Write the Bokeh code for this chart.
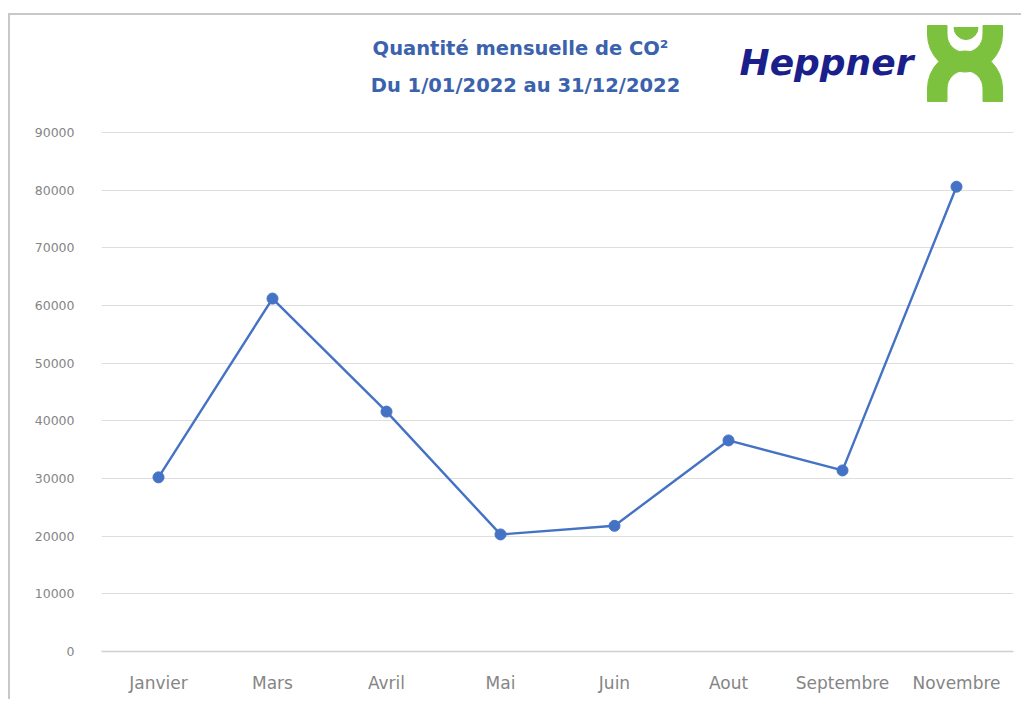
from bokeh.plotting import figure
from bokeh.models import FactorRange, Range1d, FixedTicker
from bokeh.core.properties import value
from bokeh.embed import file_html
from bokeh.resources import INLINE

# ---- data ----
months = ["Janvier", "Mars", "Avril", "Mai", "Juin", "Aout", "Septembre", "Novembre"]
co2 = [30200, 61200, 41600, 20300, 21800, 36600, 31400, 80600]
y_ticks = [0, 10000, 20000, 30000, 40000, 50000, 60000, 70000, 80000, 90000]
title_lines = ["Quantité mensuelle de CO²", "Du 1/01/2022 au 31/12/2022"]
brand = "Heppner"

# ---- layout constants (canvas pixels) ----
W, H = 1013, 686
FL, FR, FB = 91, 1003, 636   # frame left/right/bottom in canvas px
FT = 0                       # frame top
Y_MAX_TICK = 90000
PX_90K = 519                 # px between 0 and 90000 gridlines
y_end = Y_MAX_TICK * (FB - FT) / PX_90K

p = figure(width=W, height=H, x_range=FactorRange(*months, range_padding=0),
           y_range=Range1d(0, y_end), output_backend="svg", toolbar_location=None,
           min_border_left=FL, min_border_right=W - FR, min_border_top=FT,
           min_border_bottom=H - FB)
p.styles = {"border-left": "2px solid #c8c8c8", "border-top": "2px solid #c8c8c8",
            "margin-top": "13px", "margin-left": "8px"}
p.outline_line_color = None
p.background_fill_color = "white"
p.border_fill_color = "white"

# page px -> data coords (canvas at page (10, 15))
def dx(px):
    return (px - 101) / 114.0

def dy(py):
    return (651 - py) * Y_MAX_TICK / PX_90K

# axes
p.xgrid.grid_line_color = None
p.ygrid.grid_line_color = "#dedede"
p.ygrid.grid_line_width = 1
p.yaxis.ticker = FixedTicker(ticks=y_ticks)
p.yaxis.axis_line_color = None
p.yaxis.major_tick_line_color = None
p.yaxis.minor_tick_line_color = None
p.yaxis.major_label_standoff = 21
p.yaxis.major_label_text_color = "#858585"
p.yaxis.major_label_text_font = "DejaVu Sans"
p.yaxis.major_label_text_font_size = "12.5px"

p.xaxis.axis_line_color = "#d0d0d0"
p.xaxis.axis_line_width = 1.5
p.xaxis.major_tick_line_color = None
p.xaxis.minor_tick_line_color = None
p.xaxis.major_label_standoff = 15
p.xaxis.major_label_text_color = "#858585"
p.xaxis.major_label_text_font = "DejaVu Sans"
p.xaxis.major_label_text_font_size = "17px"

# series
p.line(months, co2, line_color="#4472C4", line_width=2.4)
p.scatter(months, co2, size=11, fill_color="#4472C4", line_color="#4472C4")

# title
p.text(x=[dx(520)], y=[dy(48)], text=[title_lines[0]], text_align="center",
       text_baseline="middle", text_font=value("DejaVu Sans"), text_font_style="bold",
       text_font_size="19.5px", text_color="#3B62AC")
p.text(x=[dx(525)], y=[dy(85)], text=[title_lines[1]], text_align="center",
       text_baseline="middle", text_font=value("DejaVu Sans"), text_font_style="bold",
       text_font_size="19.5px", text_color="#3B62AC")

# logo
p.text(x=[dx(739)], y=[dy(62)], text=[brand], text_align="left",
       text_baseline="middle", text_font=value("DejaVu Sans"), text_font_style="bold italic",
       text_font_size="36px", text_color="#1B1F8C")
green = "#7DC23E"
CX = 964.5
p.annular_wedge(x=[dx(CX)], y=[dy(34)], inner_radius=18, outer_radius=37.5,
                inner_radius_units="screen", outer_radius_units="screen",
                start_angle=3.14159265, end_angle=6.2831853, color=green)
p.annular_wedge(x=[dx(CX)], y=[dy(88)], inner_radius=18, outer_radius=37.5,
                inner_radius_units="screen", outer_radius_units="screen",
                start_angle=0, end_angle=3.14159265, color=green)
# straight arm / leg extensions
p.quad(left=[dx(CX - 37.5), dx(CX + 18)], right=[dx(CX - 18), dx(CX + 37.5)],
       top=[dy(25), dy(25)], bottom=[dy(34.5), dy(34.5)], color=green)
p.quad(left=[dx(CX - 37.5), dx(CX + 18)], right=[dx(CX - 18), dx(CX + 37.5)],
       top=[dy(87.5), dy(87.5)], bottom=[dy(101), dy(101)], color=green)
# head
p.wedge(x=[dx(CX + 1)], y=[dy(27)], radius=12, radius_units="screen",
        start_angle=3.14159265, end_angle=6.2831853, color=green)

open("out.html", "w").write(file_html(p, INLINE))
